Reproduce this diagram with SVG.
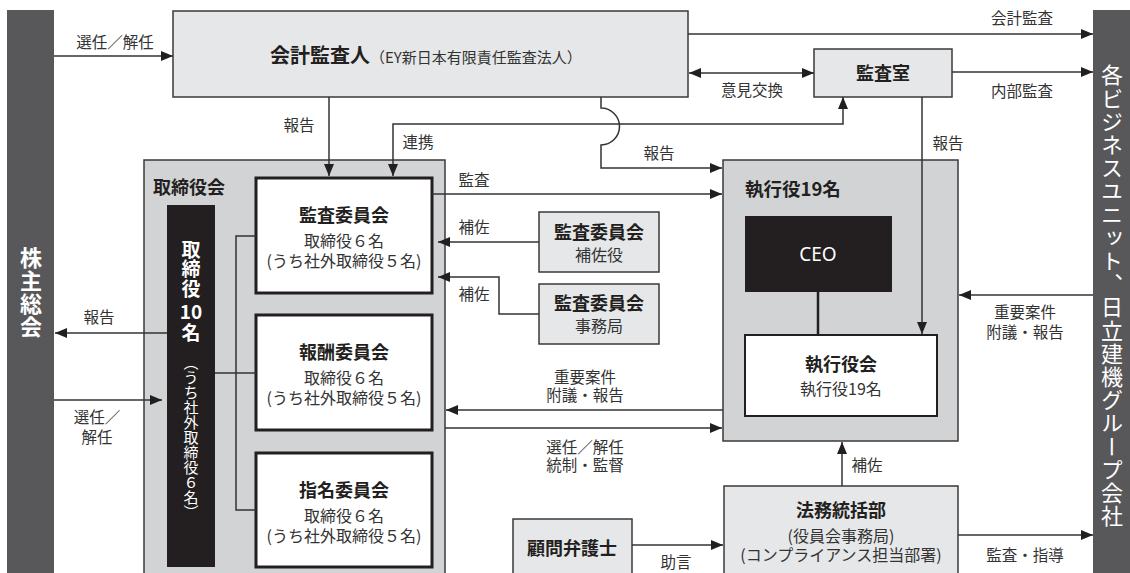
<svg xmlns="http://www.w3.org/2000/svg" width="1130" height="573" viewBox="0 0 1130 573">
<defs>
<marker id="ah" markerUnits="userSpaceOnUse" markerWidth="12" markerHeight="10" refX="12" refY="5" orient="auto-start-reverse"><path d="M0,0 L12,5 L0,10 z" fill="#231f20"/></marker>
<style>
text{font-family:"Noto Sans CJK JP","Noto Sans",sans-serif;fill:#231f20}
.lb{font-size:15.5px;fill:#333;text-anchor:middle}
.t{font-size:18px;font-weight:bold;text-anchor:middle}
.s{font-size:16px;text-anchor:middle;fill:#333}
.w{fill:#fff}
.v{writing-mode:vertical-rl}
.light{fill:#e6e7e8;stroke:#3a3a3a;stroke-width:1.5}
.cont{fill:#d1d3d4;stroke:#3a3a3a;stroke-width:1.5}
.com{fill:#fff;stroke:#231f20;stroke-width:3}
.bar{fill:#58585a}
.blk{fill:#231f20}
#connectors path{fill:none;stroke:#333;stroke-width:1.5}
#connectors .a{marker-end:url(#ah)}
</style>
</defs>

<g id="shareholders">
<rect class="bar" x="7" y="10" width="47" height="563"/>
<text class="w v" x="31" y="247" style="font-size:22px;font-weight:bold;letter-spacing:1px">株主総会</text>
</g>

<g id="business-units">
<rect class="bar" x="1093" y="10" width="37" height="563"/>
<text class="w v" x="1112" y="64" style="font-size:22px;letter-spacing:1.2px">各ビジネスユニット、日立建機グループ会社</text>
</g>

<g id="auditor">
<rect class="light" x="173" y="11" width="515" height="86"/>
<text x="270" y="63"><tspan style="font-size:20px;font-weight:bold">会計監査人</tspan><tspan style="font-size:15px;fill:#333">（EY新日本有限責任監査法人）</tspan></text>
</g>

<g id="audit-office">
<rect class="light" x="814" y="49" width="138" height="48"/>
<text class="t" x="883" y="80">監査室</text>
</g>

<g id="board">
<rect class="cont" x="144" y="160" width="301" height="420"/>
<text x="153" y="194" style="font-size:18px;font-weight:bold">取締役会</text>
</g>

<g id="directors">
<rect class="blk" x="167" y="205" width="48" height="362"/>
<text class="w v" x="191" y="240" style="font-size:19px;font-weight:bold;letter-spacing:0.5px">取締役</text>
<text class="w" x="191" y="319" style="font-size:19px;font-weight:bold;text-anchor:middle">10</text>
<text class="w" x="191" y="340" style="font-size:19px;font-weight:bold;text-anchor:middle">名</text>
<text class="w v" x="191" y="355" style="font-size:15px">（うち社外取締役６名）</text>
</g>

<g id="audit-committee">
<rect class="com" x="256" y="178" width="176" height="115"/>
<text class="t" x="344" y="222">監査委員会</text>
<text class="s" x="344" y="247">取締役６名</text>
<text class="s" x="344" y="267">(うち社外取締役５名)</text>
</g>

<g id="compensation-committee">
<rect class="com" x="256" y="315" width="176" height="115"/>
<text class="t" x="344" y="359">報酬委員会</text>
<text class="s" x="344" y="384">取締役６名</text>
<text class="s" x="344" y="404">(うち社外取締役５名)</text>
</g>

<g id="nominating-committee">
<rect class="com" x="256" y="453" width="176" height="114"/>
<text class="t" x="344" y="497">指名委員会</text>
<text class="s" x="344" y="522">取締役６名</text>
<text class="s" x="344" y="542">(うち社外取締役５名)</text>
</g>

<g id="ac-assistant">
<rect class="light" x="539" y="212" width="120" height="60"/>
<text class="t" x="599" y="239">監査委員会</text>
<text class="s" x="599" y="261">補佐役</text>
</g>

<g id="ac-secretariat">
<rect class="light" x="539" y="284" width="120" height="60"/>
<text class="t" x="599" y="310">監査委員会</text>
<text class="s" x="599" y="332">事務局</text>
</g>

<g id="executives">
<rect class="cont" x="723" y="160" width="235" height="281"/>
<text x="745" y="196" style="font-size:18.5px;font-weight:bold">執行役19名</text>
</g>

<g id="ceo">
<rect class="blk" x="745" y="216" width="147" height="76"/>
<text class="w" x="818" y="261" style="font-family:'Noto Sans',sans-serif;font-size:19px;text-anchor:middle">CEO</text>
</g>

<g id="executive-meeting">
<rect x="745" y="335" width="192" height="81" fill="#fff" stroke="#231f20" stroke-width="2"/>
<text class="t" x="841" y="371">執行役会</text>
<text class="s" x="841" y="395">執行役19名</text>
</g>

<g id="legal">
<rect class="light" x="724" y="486" width="234" height="100"/>
<text class="t" x="841" y="517">法務統括部</text>
<text class="s" x="841" y="542">(役員会事務局)</text>
<text class="s" x="841" y="561">(コンプライアンス担当部署)</text>
</g>

<g id="counsel">
<rect class="light" x="513" y="519" width="119" height="70"/>
<text class="t" x="572" y="555">顧問弁護士</text>
</g>

<g id="connectors">
<path class="a" d="M54,56 H173"/>
<path class="a" d="M329,97 V176"/>
<path class="a" d="M688,34 H1093"/>
<path class="a" d="M689,73 H814" style="marker-start:url(#ah)"/>
<path class="a" d="M952,72 H1093"/>
<path class="a" d="M393,176 V124 H843 V97" style="marker-start:url(#ah)"/>
<path class="a" d="M601,97 V108 A18.5,18.5 0 0 1 601,145 V168 H722"/>
<path class="a" d="M432,194 H722"/>
<path class="a" d="M922,97 V334"/>
<path class="a" d="M539,242 H438"/>
<path class="a" d="M539,314 H499 V277 H438"/>
<path class="a" d="M1093,295 H959"/>
<path class="a" d="M723,410 H446"/>
<path class="a" d="M445,428 H722"/>
<path class="a" d="M842,486 V442"/>
<path class="a" d="M632,545 H723"/>
<path class="a" d="M958,535 H1093"/>
<path class="a" d="M167,333 H55"/>
<path class="a" d="M54,400 H162"/>
<path d="M256,236 H236 V510 H256"/>
<path d="M215,373 H256"/>
<path d="M818,292 V335" style="stroke:#231f20;stroke-width:2.5"/>
</g>

<g id="labels">
<text class="lb" x="115" y="48">選任／解任</text>
<text class="lb" x="299" y="131">報告</text>
<text class="lb" x="418" y="148">連携</text>
<text class="lb" x="659" y="159">報告</text>
<text class="lb" x="474" y="186">監査</text>
<text class="lb" x="1022" y="24">会計監査</text>
<text class="lb" x="752" y="96">意見交換</text>
<text class="lb" x="1022" y="97">内部監査</text>
<text class="lb" x="948" y="149">報告</text>
<text class="lb" x="474" y="233">補佐</text>
<text class="lb" x="474" y="300">補佐</text>
<text class="lb" x="99" y="323">報告</text>
<text class="lb" x="97" y="423">選任／</text>
<text class="lb" x="97" y="443">解任</text>
<text class="lb" x="585" y="383">重要案件</text>
<text class="lb" x="585" y="401">附議・報告</text>
<text class="lb" x="585" y="453">選任／解任</text>
<text class="lb" x="585" y="471">統制・監督</text>
<text class="lb" x="1025" y="318">重要案件</text>
<text class="lb" x="1025" y="338">附議・報告</text>
<text class="lb" x="867" y="471">補佐</text>
<text class="lb" x="676" y="568">助言</text>
<text class="lb" x="1025" y="561">監査・指導</text>
</g>
</svg>
